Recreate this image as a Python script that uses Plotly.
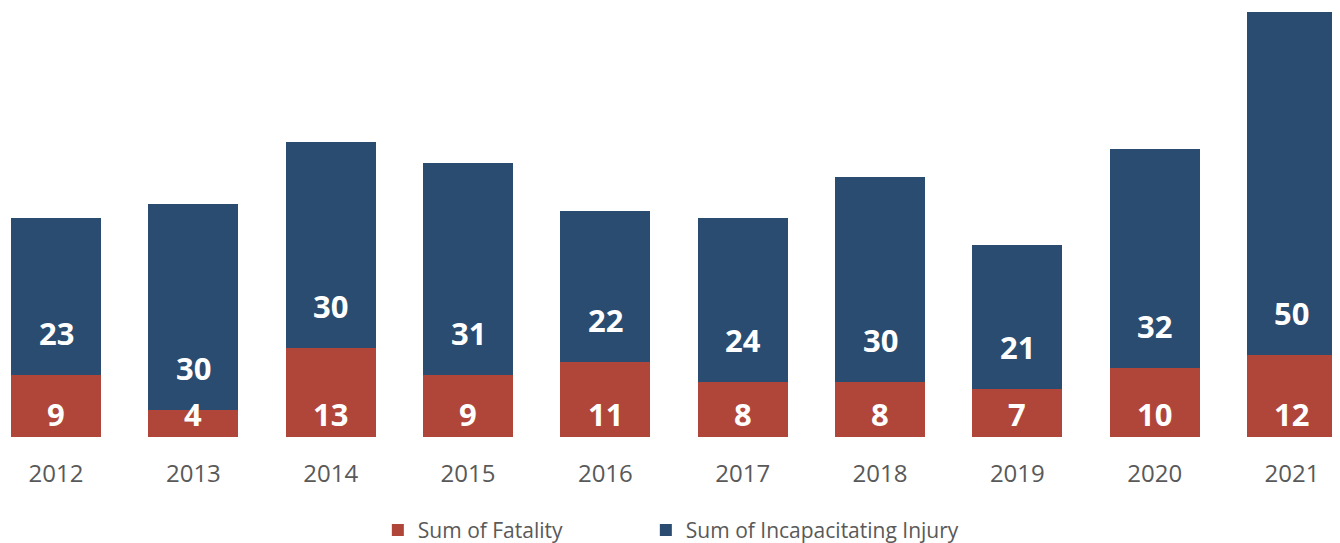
import plotly.graph_objects as go

years = ["2012", "2013", "2014", "2015", "2016", "2017", "2018", "2019", "2020", "2021"]
fatality = [9, 4, 13, 9, 11, 8, 8, 7, 10, 12]
injury = [23, 30, 30, 31, 22, 24, 30, 21, 32, 50]

label_font = dict(family="Open Sans", size=31, color="white")

fig = go.Figure()
fig.add_trace(go.Bar(
    x=years, y=fatality, name="Sum of Fatality",
    marker=dict(color="#b0463a", line=dict(width=0)),
    textposition="none",
    hoverinfo="x+y", legend="legend",
))
fig.add_trace(go.Bar(
    x=years, y=injury, name="Sum of Incapacitating Injury",
    marker=dict(color="#2a4c70", line=dict(width=0)),
    textposition="none",
    hoverinfo="x+y", legend="legend2",
))

# data labels placed just above the base of each segment ("inside base")
for i, (f, v) in enumerate(zip(fatality, injury)):
    fig.add_annotation(x=i, y=0, xref="x", yref="y", text=f"<b>{f}</b>", showarrow=False,
                       yanchor="middle", yshift=23, font=label_font)
    fig.add_annotation(x=i, y=f, xref="x", yref="y", text=f"<b>{v}</b>", showarrow=False,
                       yanchor="middle", yshift=42, font=label_font)

legend_common = dict(orientation="h", y=-0.17, yanchor="top", xanchor="left",
                     font=dict(size=21, color="#595959"), bgcolor="rgba(0,0,0,0)")

fig.update_layout(
    barmode="stack",
    bargap=0.345,
    width=1340, height=543,
    margin=dict(l=0, r=0, t=0, b=105),
    paper_bgcolor="white", plot_bgcolor="white",
    font=dict(family="Open Sans", color="#595959"),
    showlegend=True,
    legend=dict(x=0.276, **legend_common),
    legend2=dict(x=0.476, **legend_common),
    xaxis=dict(type="category", range=[-0.35, 9.408], showgrid=False, showline=False,
               zeroline=False, ticks="", ticklabelstandoff=20,
               tickfont=dict(size=24, color="#595959")),
    yaxis=dict(range=[0, 62.6], showgrid=False, showline=False, zeroline=False,
               showticklabels=False, ticks=""),
)

fig.write_html("out.html")
